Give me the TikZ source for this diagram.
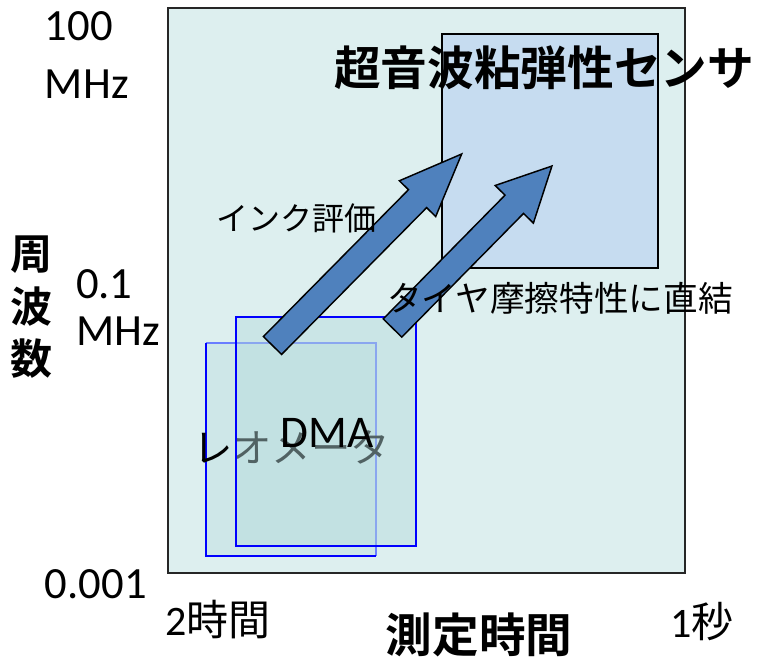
\documentclass[tikz,border=0pt]{standalone}
\usepackage{fontspec}
\setmainfont{Carlito}
\newfontfamily\jp{Noto Sans CJK JP}[BoldFont={Noto Sans CJK JP Bold}]
\definecolor{framefill}{RGB}{221,239,239}
\definecolor{sensorfill}{RGB}{198,220,240}
\definecolor{rectfill}{RGB}{180,218,220}
\definecolor{arrowfill}{RGB}{79,129,189}
\definecolor{lightblueline}{RGB}{105,125,255}
\tikzset{
  lbl/.style={inner sep=0pt, outer sep=0pt, text=black},
  axisnum/.style={lbl, font=\fontsize{33.5}{33.5}\selectfont, anchor=base west},
  blockarrow/.style={draw=black, line width=1.1pt, fill=arrowfill, line join=miter},
  bluerect/.style={draw=blue, line width=1.5pt}
}
\begin{document}
\begin{tikzpicture}[x=0.75pt, y=-0.75pt]
\useasboundingbox (0,0) rectangle (761,661);
% main frame
\draw[fill=framefill, draw=black!85, line width=1.2pt] (168,8) rectangle (685,573);
% sensor box
\draw[fill=sensorfill, draw=black, line width=1.4pt] (442,34) rectangle (658,268);
% rect B (rheometer)
\fill[rectfill, fill opacity=0.35] (205.5,343) rectangle (376,555.5);
\draw[lightblueline, line width=1.5pt] (205.5,343) -- (376,343) -- (376,555.5);
\draw[blue, line width=1.5pt] (205.5,343) -- (205.5,555.5) -- (376,555.5);
\node[lbl, font=\jp\fontsize{29.5}{29.5}\selectfont] (rheo) at (291.5,447) {レオメータ};
% rect A (DMA)
\fill[rectfill, fill opacity=0.45] (236,317) rectangle (415.5,546);
\draw[bluerect] (236,317) rectangle (415.5,546);
\node[lbl, font=\fontsize{34}{34}\selectfont, anchor=base] (dma) at (327,447) {DMA};
% arrows
\begin{scope}[shift={(272.5,345.5)}, rotate=45.35]
\draw[blockarrow] (0,-12.75) -- (206.4,-12.75) -- (206.4,-25.5) -- (269.2,0) -- (206.4,25.5) -- (206.4,12.75) -- (0,12.75) -- cycle;
\end{scope}
\begin{scope}[shift={(392.5,328)}, rotate=45.45]
\draw[blockarrow] (0,-13) -- (173.6,-13) -- (173.6,-26.8) -- (227.3,0) -- (173.6,26.8) -- (173.6,13) -- (0,13) -- cycle;
\end{scope}
% title
\node[lbl, font=\jp\bfseries\fontsize{35}{35}\selectfont] (title) at (544,68) {超音波粘弾性センサ};
% arrow labels
\node[lbl, font=\jp\fontsize{24}{24}\selectfont] (ink) at (296,218) {インク評価};
\node[lbl, font=\jp\fontsize{26}{26}\selectfont] (tire) at (560,298) {タイヤ摩擦特性に直結};
% y-axis labels
\node[axisnum] (y100) at (45,40) {100};
\node[axisnum] (y100u) at (45,98) {MHz};
\node[axisnum] (y01) at (76,298) {0.1};
\node[axisnum] (y01u) at (76,345) {MHz};
\node[axisnum] (y0001) at (45,598) {0.001};
\node[lbl, font=\jp\bfseries\fontsize{31.5}{31.5}\selectfont] (ya) at (32,255) {周};
\node[lbl, font=\jp\bfseries\fontsize{31.5}{31.5}\selectfont] (yb) at (32,307) {波};
\node[lbl, font=\jp\bfseries\fontsize{31.5}{31.5}\selectfont] (yc) at (32,359) {数};
% x-axis labels
\node[lbl, font=\jp\fontsize{31.5}{31.5}\selectfont] (x2h) at (218,620) {\fontspec{Carlito}2\jp 時間};
\node[lbl, font=\jp\fontsize{31.5}{31.5}\selectfont] (x1s) at (702,622) {\fontspec{Carlito}1\jp 秒};
\node[lbl, font=\jp\bfseries\fontsize{35}{35}\selectfont] (xlab) at (479,635) {測定時間};
\end{tikzpicture}
\end{document}
